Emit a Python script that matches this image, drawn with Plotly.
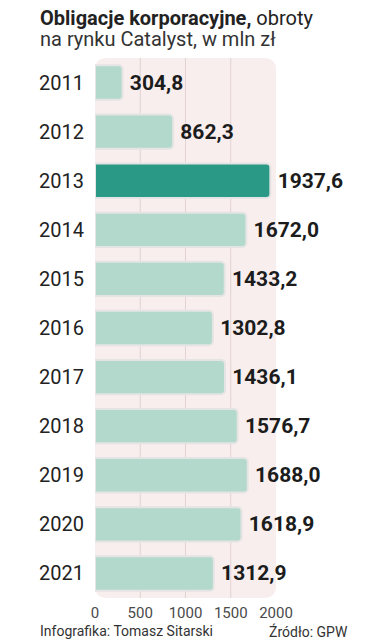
import plotly.graph_objects as go

years = ["2011", "2012", "2013", "2014", "2015", "2016", "2017", "2018", "2019", "2020", "2021"]
values = [304.8, 862.3, 1937.6, 1672.0, 1433.2, 1302.8, 1436.1, 1576.7, 1688.0, 1618.9, 1312.9]
labels = ["304,8", "862,3", "1937,6", "1672,0", "1433,2", "1302,8", "1436,1", "1576,7", "1688,0", "1618,9", "1312,9"]
highlight_year = "2013"
x_ticks = [0, 500, 1000, 1500, 2000]
grid_vals = [500, 1000, 1500]

LIGHT = "#b3d9cc"
DARK = "#2a9a86"
colors = [DARK if y == highlight_year else LIGHT for y in years]

OFF = 8  # default page body margin
W, H = 378 - OFF, 640 - OFF
L, T = 95 - OFF, 58 - OFF
R = W - (276 - OFF)
B = H - (598 - OFF)
PW, PH = W - L - R, H - T - B


def px_x(px):
    return (px - OFF - L) / PW


def px_y(py):
    return (H - B - (py - OFF)) / PH


fig = go.Figure()
fig.add_trace(go.Bar(
    y=years, x=values, orientation="h",
    marker=dict(color=colors, line=dict(color="#e4e4e4", width=2)),
    width=0.7,
    text=labels, texttemplate="\u2009%{text}", textposition="outside", cliponaxis=False,
    textfont=dict(family="Roboto", size=21, color="#1c1c1c", weight="bold"),
    hoverinfo="skip",
))

# rounded pink background panel
rx, ry = 12 / PW, 12 / PH
path = (f"M {rx},1 L {1-rx},1 Q 1,1 1,{1-ry} L 1,{ry} Q 1,0 {1-rx},0 "
        f"L {rx},0 Q 0,0 0,{ry} L 0,{1-ry} Q 0,1 {rx},1 Z")
shapes = [dict(type="path", path=path, xref="x domain", yref="y domain",
               fillcolor="#f8eeee", line=dict(width=0), layer="below")]
for g in grid_vals:
    shapes.append(dict(type="line", x0=g, x1=g, y0=0, y1=1, xref="x", yref="y domain",
                       line=dict(color="#e2d2d2", width=1), layer="below"))

fig.update_layout(
    width=W, height=H,
    margin=dict(l=L, r=R, t=T, b=B, autoexpand=False),
    paper_bgcolor="white", plot_bgcolor="rgba(0,0,0,0)",
    showlegend=False, barcornerradius=4,
    shapes=shapes,
    xaxis=dict(range=[0, 2000], tickvals=x_ticks, ticktext=[str(t) for t in x_ticks],
               showgrid=False, zeroline=False, showline=False, ticks="", automargin=False,
               ticklabelstandoff=4,
               tickfont=dict(family="Roboto", size=15, color="#4a4a4a")),
    yaxis=dict(categoryorder="array", categoryarray=years, autorange="reversed",
               showgrid=False, zeroline=False, showline=False, ticks="", automargin=False,
               ticklabelstandoff=10,
               tickfont=dict(family="Roboto", size=20, color="#222")),
    annotations=[
        dict(x=px_x(38), y=px_y(18), xref="paper", yref="paper", xanchor="left", yanchor="middle",
             showarrow=False, text="<b>Obligacje korporacyjne,</b> obroty",
             font=dict(family="Roboto", size=20, color="#222")),
        dict(x=px_x(38), y=px_y(39), xref="paper", yref="paper", xanchor="left", yanchor="middle",
             showarrow=False, text="na rynku Catalyst, w mln zł",
             font=dict(family="Roboto", size=20, color="#333")),
        dict(x=px_x(38), y=px_y(631), xref="paper", yref="paper", xanchor="left", yanchor="middle",
             showarrow=False, text="Infografika: Tomasz Sitarski",
             font=dict(family="Roboto", size=14, color="#333")),
        dict(x=px_x(350), y=px_y(631), xref="paper", yref="paper", xanchor="right", yanchor="middle",
             showarrow=False, text="Źródło: GPW",
             font=dict(family="Roboto", size=14, color="#333")),
    ],
)

fig.write_html("out.html")
